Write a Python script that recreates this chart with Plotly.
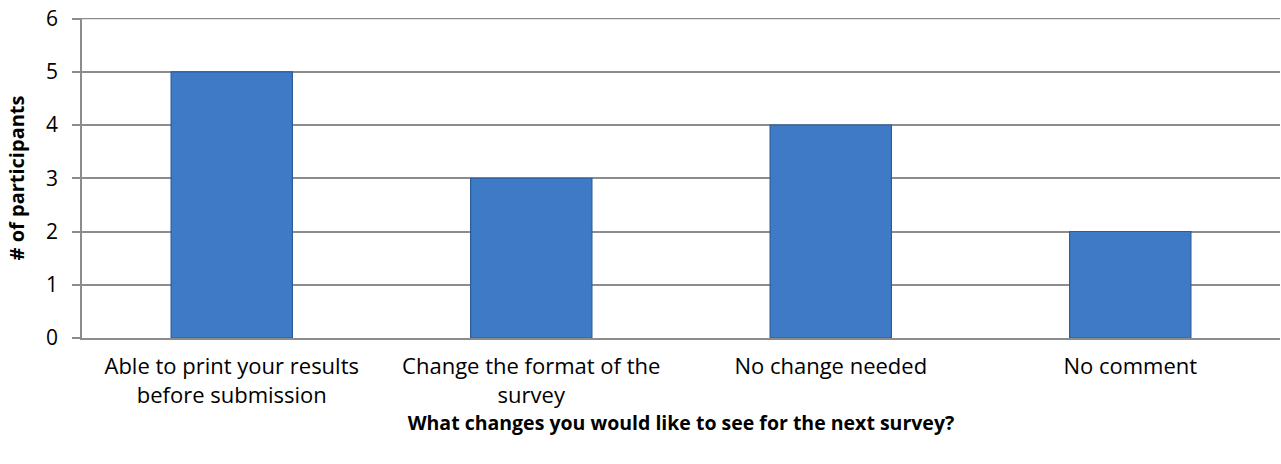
import plotly.graph_objects as go

categories = [
    "Able to print your results<br>before submission",
    "Change the format of the<br>survey",
    "No change needed",
    "No comment",
]
participants = [5, 3, 4, 2]
y_ticks = [0, 1, 2, 3, 4, 5, 6]

FONT = "Open Sans"

fig = go.Figure()
fig.add_trace(go.Bar(
    x=categories,
    y=participants,
    marker=dict(color="#3f7ac6", line=dict(color="#2b5c9e", width=1.2)),
    width=0.405,
))

# top gridline (plotly omits the gridline lying on the plot edge)
fig.add_shape(type="line", xref="paper", x0=0, x1=1, yref="y",
              y0=y_ticks[-1], y1=y_ticks[-1],
              line=dict(color="#8c8c8c", width=1.5), layer="below")

fig.update_layout(
    width=1281, height=464,
    margin=dict(l=82, r=1, t=18, b=126),
    paper_bgcolor="white", plot_bgcolor="white",
    showlegend=False,
    font=dict(family=FONT, size=22, color="black"),
    xaxis=dict(
        title=dict(text="<b>What changes you would like to see for the next survey?</b>",
                   font=dict(family=FONT, size=19.5), standoff=6),
        showline=True, linecolor="#8c8c8c", linewidth=2,
        ticks="", showgrid=False,
        tickfont=dict(family=FONT, size=22),
        ticklabelstandoff=8,
    ),
    yaxis=dict(
        title=dict(text="<b># of participants</b>", font=dict(family=FONT, size=20), standoff=16),
        range=[0, 6.01], tickvals=y_ticks,
        showline=True, linecolor="#8c8c8c", linewidth=1.5,
        ticks="outside", ticklen=8, tickcolor="#8c8c8c", tickwidth=1.5,
        showgrid=True, gridcolor="#8c8c8c", gridwidth=1.5,
        zeroline=False,
        tickfont=dict(family=FONT, size=21),
        ticklabelstandoff=10,
    ),
)

fig.write_html(
    "out.html",
    config={"displayModeBar": False},
    post_script="document.body.style.margin='0';document.body.style.overflow='hidden';",
)
